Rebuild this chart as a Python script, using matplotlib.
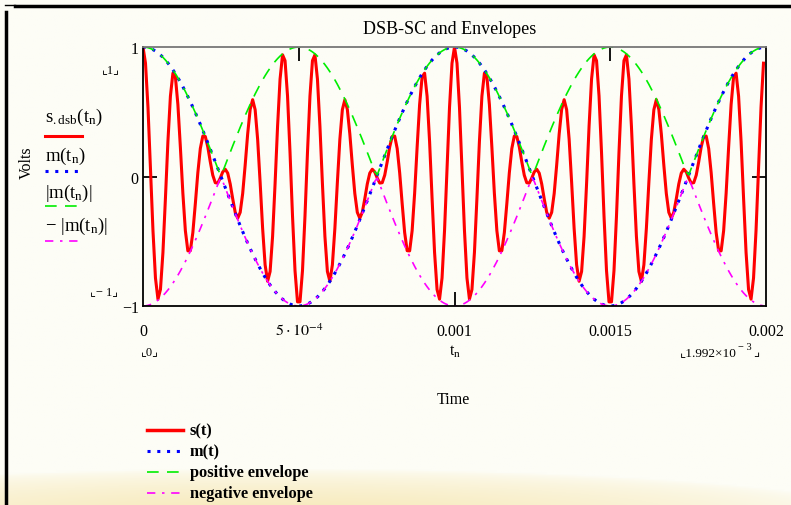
import numpy as np
import matplotlib
matplotlib.use("Agg")
import matplotlib.pyplot as plt
from matplotlib.colors import LinearSegmentedColormap

# ---- data ----
t_start = 0.0
t_end = 1.992e-3          # last sample shown on the axis (1.992x10^-3)
t_step = 8e-6             # sample spacing of t_n
f_message = 1000.0        # m(t) period 1 ms
f_carrier = 10000.0       # carrier period 0.1 ms
x_ticks = [0, 5e-4, 1e-3, 1.5e-3, 2e-3]
x_tick_labels = ["0", r"$5\cdot10^{-4}$", "0.001", "0.0015", "0.002"]
y_ticks = [-1, 0, 1]
y_tick_labels = ["\u22121", "0", "1"]
legend_labels = ["s(t)", "m(t)", "positive envelope", "negative envelope"]

t_n = np.arange(t_start, t_end + t_step / 2, t_step)
m = np.cos(2 * np.pi * f_message * t_n)
s_dsb = m * np.cos(2 * np.pi * f_carrier * t_n)
pos_env = np.abs(m)
neg_env = -np.abs(m)

plt.rcParams["font.family"] = ["Liberation Serif", "DejaVu Sans"]
plt.rcParams["mathtext.fontset"] = "stix"

W, H = 791, 506
fig = plt.figure(figsize=(W / 100, H / 100), dpi=100)
fig.patch.set_facecolor("#fdfdf6")

# background gradient (warm glow at bottom)
bg = fig.add_axes([0, 0, 1, 1], zorder=-10)
bg.set_axis_off()
yy = np.linspace(0, 1, 300)[:, None]     # 0 = bottom
xx = np.linspace(0, 1, 400)[None, :]
dist = np.sqrt(((xx - 0.35) / 0.75) ** 2 + ((yy + 0.02) / 0.09) ** 2)
glow = np.clip(1 - dist, 0, 1) ** 0.6
cmap = LinearSegmentedColormap.from_list("bgc", ["#fdfdf6", "#f7e9b8"])
bg.imshow(glow, cmap=cmap, aspect="auto", extent=[0, 1, 0, 1], origin="lower",
          vmin=0, vmax=1)
bg.set_xlim(0, 1); bg.set_ylim(0, 1)

def fx(px):
    return px / W

def fy(py):
    return 1 - py / H

# frame lines of the page
fig.add_artist(plt.Line2D([fx(15), fx(791)], [fy(7), fy(7)], color="black", lw=2.5))
fig.add_artist(plt.Line2D([fx(5), fx(15)], [fy(6), fy(6)], color="black", lw=1))
fig.add_artist(plt.Line2D([fx(6.5), fx(6.5)], [fy(13), fy(506)], color="black", lw=2.5))

RED, BLUE, GREEN, MAG = "#ff0000", "#0000ff", "#00ee00", "#ff00ff"
LS_M = (0, (1, 2.2))
LS_P = (0, (7, 5))
LS_N = (0, (5, 4, 1.5, 4))

ax = fig.add_axes([fx(143), fy(307), fx(766) - fx(143), fy(48) - fy(307)])
ax.set_facecolor("none")
ax.plot(t_n, s_dsb, color=RED, lw=2.2)
ax.plot(t_n, m, color=BLUE, lw=2.2, linestyle=LS_M)
ax.plot(t_n, pos_env, color=GREEN, lw=1.2, linestyle=LS_P)
ax.plot(t_n, neg_env, color=MAG, lw=1.2, linestyle=LS_N)

ax.set_xlim(0, 0.002)
ax.set_ylim(-1, 1)
for side in ["left", "bottom", "right"]:
    ax.spines[side].set_color("black")
    ax.spines[side].set_linewidth(1.3)
ax.spines["top"].set_color("#777777")
ax.spines["top"].set_linewidth(1.3)

ax.set_xticks(x_ticks)
ax.set_xticklabels(x_tick_labels, fontsize=11.5)
ax.set_yticks(y_ticks)
ax.set_yticklabels(y_tick_labels, fontsize=11.5)
ax.tick_params(axis="x", direction="in", length=10, width=1.3, pad=12, top=True)
ax.tick_params(axis="y", direction="in", length=10, width=1.3, pad=3, right=True)
xt = ax.xaxis.get_major_ticks()
for i, tk in enumerate(xt):
    tk.tick1line.set_visible(i == 2)
    tk.tick2line.set_visible(i in (1, 3))
yt = ax.yaxis.get_major_ticks()
for i, tk in enumerate(yt):
    tk.tick1line.set_visible(i == 1)
    tk.tick2line.set_visible(i == 1)

# title and labels
fig.text(fx(450), fy(30), "DSB-SC and Envelopes", ha="center", va="center", fontsize=13)
fig.text(fx(27), fy(163), "Volts", ha="center", va="center", rotation=90, fontsize=11.5)
fig.text(fx(453), fy(400), "Time", ha="center", va="center", fontsize=11.5)
fig.text(fx(455), fy(352), r"t$_\mathregular{n}$", ha="center", va="center", fontsize=11.5)

bfam = ["Liberation Serif", "DejaVu Sans"]
fig.text(fx(111), fy(70), "\u231e1\u231f", ha="center", va="center", fontsize=9, family=bfam)
fig.text(fx(104), fy(292), "\u231e\u2212 1\u231f", ha="center", va="center", fontsize=9, family=bfam)
fig.text(fx(150), fy(352), "\u231e0\u231f", ha="center", va="center", fontsize=9, family=bfam)
fig.text(fx(680), fy(353), "\u231e1.992\u00d710", ha="left", va="center", fontsize=9.5, family=bfam)
fig.text(fx(738), fy(347), "\u2212 3", ha="left", va="center", fontsize=7.5, family=bfam)
fig.text(fx(753), fy(353), "\u231f", ha="left", va="center", fontsize=9.5, family=bfam)

# left trace labels (Mathcad style)
tl = [
    ("s$_{\\mathregular{.dsb}}$$\\mathregular{(t_n)}$", 117, RED, "-", 2.2, 137),
    ("m$\\mathregular{(t_n)}$", 156, BLUE, LS_M, 2.2, 172),
    ("|m$\\mathregular{(t_n)}$|", 193, GREEN, LS_P, 1.2, 207),
    ("\u2212 |m$\\mathregular{(t_n)}$|", 226, MAG, LS_N, 1.2, 242),
]
for txt, ty, col, ls, lw, ly in tl:
    fig.text(fx(45), fy(ty), txt, ha="left", va="center", fontsize=13.5)
    fig.add_artist(plt.Line2D([fx(45), fx(82)], [fy(ly), fy(ly)], color=col, lw=lw, linestyle=ls))

# bottom legend
leg_styles = [(RED, "-", 2.5), (BLUE, LS_M, 2.2), (GREEN, LS_P, 1.2), (MAG, LS_N, 1.2)]
for i, (lab, (col, ls, lw)) in enumerate(zip(legend_labels, leg_styles)):
    yp = 431 + i * 21
    fig.add_artist(plt.Line2D([fx(147), fx(183)], [fy(yp), fy(yp)], color=col, lw=lw, linestyle=ls))
    fig.text(fx(190), fy(yp), lab, ha="left", va="center", fontsize=11.8, fontweight="bold")

fig.savefig("out.png", dpi=100, facecolor=fig.get_facecolor())
